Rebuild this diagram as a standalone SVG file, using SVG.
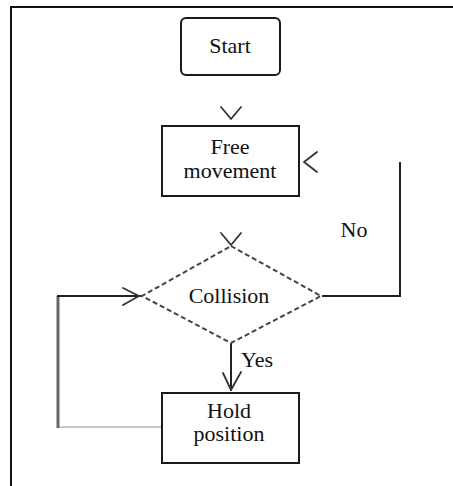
<svg xmlns="http://www.w3.org/2000/svg" width="453" height="486" viewBox="0 0 453 486">
  <style>
    .box { fill: #fff; stroke: #1a1a1a; stroke-width: 2; }
    .label { font-family: "Liberation Serif", "Times New Roman", serif; font-size: 22px; fill: #111; text-anchor: middle; }
    .wire { fill: none; stroke: #222; stroke-width: 2; }
    .head { fill: none; stroke: #333; stroke-width: 1.8; stroke-linecap: round; stroke-linejoin: round; }
  </style>

  <rect width="453" height="486" fill="#fff"/>
  <!-- outer frame: top and left rules -->
  <path d="M11 486 V7 H453" fill="none" stroke="#111" stroke-width="2"/>

  <g id="connectors">
    <!-- start -> free movement (arrowhead only) -->
    <path class="head" d="M221 107 L231 119 L241 107"/>
    <!-- no-branch loop back to free movement -->
    <path class="wire" d="M322 296 H400 V162"/>
    <path class="head" d="M317 152 L304 162 L317 172"/>
    <!-- arrowhead into decision -->
    <path class="head" d="M221 233 L231 245 L241 233"/>
    <!-- yes branch -->
    <path class="wire" d="M231 343 V391"/>
    <path class="head" d="M223 373 L231 390 L241 372"/>
    <!-- hold position loop back to decision -->
    <path d="M162 427 H58" fill="none" stroke="#c8c8c8" stroke-width="2"/>
    <path d="M58 428 V296" fill="none" stroke="#666" stroke-width="3"/>
    <path class="wire" d="M57 296 H141"/>
    <path class="head" d="M123 288 L139 296 L123 305"/>
  </g>

  <g id="start">
    <rect class="box" x="181" y="18" width="99" height="57" rx="5"/>
    <text class="label" x="230" y="53">Start</text>
  </g>

  <g id="free-movement">
    <rect class="box" x="162" y="126" width="137" height="70"/>
    <text class="label" x="230" y="154">Free</text>
    <text class="label" x="230" y="178">movement</text>
  </g>

  <g id="collision">
    <polygon points="231,246 321,296 231,343 142,296" fill="#fff" stroke="#444" stroke-width="2" stroke-dasharray="5,3"/>
    <text class="label" x="229" y="303">Collision</text>
  </g>

  <g id="hold-position">
    <rect class="box" x="162" y="393" width="137" height="70"/>
    <text class="label" x="229" y="418">Hold</text>
    <text class="label" x="229" y="441">position</text>
  </g>

  <g id="branch-labels">
    <text class="label" x="354" y="237">No</text>
    <text class="label" x="257" y="367">Yes</text>
  </g>
</svg>
